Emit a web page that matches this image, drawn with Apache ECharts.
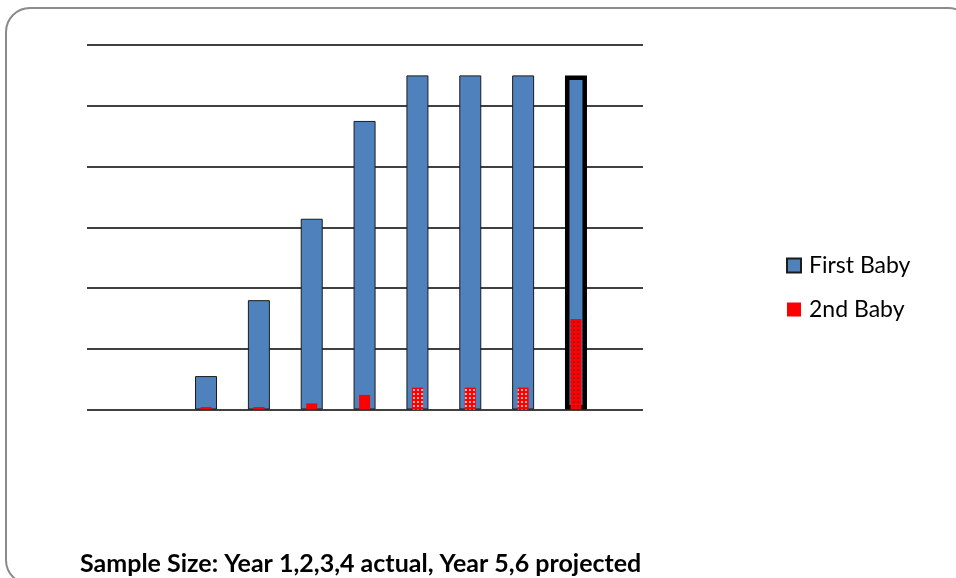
<!DOCTYPE html>
<html>
<head>
<meta charset="utf-8">
<script src="https://cdn.jsdelivr.net/npm/echarts@6/dist/echarts.min.js"></script>
<style>
  html, body { margin: 0; padding: 0; background: #fff; }
  #chart { width: 956px; height: 578px; }
</style>
</head>
<body>
<div id="chart"></div>
<script>
// bars have no axis labels in the source, so the categories are just placeholders
const categories = ['1', '2', '3', '4', '5', '6', '7', '8']
const firstBaby = [55, 180, 314, 475, 550, 550, 550, 550]
const secondBaby = [4, 4, 10, 24, 36, 36, 36, 149]
const yTicks = { min: 0, max: 600, interval: 100 }
const seriesNames = ['First Baby', '2nd Baby']
const footnote = 'Sample Size: Year 1,2,3,4 actual, Year 5,6 projected'

const FONT = 'Lato, "Open Sans", sans-serif'

// small dotted tile used to fill the projected "2nd Baby" bars
const makeDots = (bg, dot) => {
  const c = document.createElement('canvas')
  c.width = 4
  c.height = 4
  const ctx = c.getContext('2d')
  ctx.fillStyle = bg
  ctx.fillRect(0, 0, 4, 4)
  ctx.fillStyle = dot
  ctx.beginPath()
  ctx.arc(2, 2, 1.1, 0, Math.PI * 2)
  ctx.fill()
  return { image: c, repeat: 'repeat' }
}

const whiteDots = makeDots('#ff0000', 'rgba(255,220,220,0.95)')
const darkDots = makeDots('#ff0000', '#a00000')

const blueData = firstBaby.map((v, i) =>
  i === firstBaby.length - 1
    ? { value: v, itemStyle: { borderColor: '#000', borderWidth: 4.5 } }
    : v
)

const redData = secondBaby.map((v, i) => {
  if (i === secondBaby.length - 1) return { value: v, itemStyle: { color: darkDots } }
  if (i >= 4) return { value: v, itemStyle: { color: whiteDots } }
  return v
})

const hiddenCat = (gridIndex) => ({
  type: 'category',
  gridIndex,
  data: categories,
  axisLine: { show: false },
  axisTick: { show: false },
  axisLabel: { show: false }
})

const option = {
  backgroundColor: '#fff',
  animation: false,
  graphic: [
    {
      type: 'rect',
      shape: { x: 6, y: 8, width: 966, height: 576, r: 24 },
      style: { fill: 'none', stroke: '#8a8a8a', lineWidth: 2 },
      silent: true
    }
  ],
  title: {
    text: footnote,
    left: 75,
    top: 546,
    textStyle: { fontFamily: FONT, fontWeight: 'bold', fontSize: 25, color: '#000' }
  },
  legend: {
    orient: 'vertical',
    left: 781,
    top: 249,
    itemWidth: 14,
    itemHeight: 14,
    itemGap: 21,
    icon: 'rect',
    data: seriesNames,
    textStyle: { fontFamily: FONT, fontSize: 23, color: '#000', padding: [0, 0, 0, 3] }
  },
  grid: [
    // grid 0 only carries the horizontal gridlines
    { left: 87, right: 313, top: 45, bottom: 168.5 },
    // grid 1 holds the bars
    { left: 179.6, right: 353.6, top: 45, bottom: 168.5 }
  ],
  xAxis: [
    { type: 'value', gridIndex: 0, show: false },
    hiddenCat(1),
    hiddenCat(1)
  ],
  yAxis: [
    {
      type: 'value',
      gridIndex: 0,
      ...yTicks,
      axisLine: { show: false },
      axisTick: { show: false },
      axisLabel: { show: false },
      splitLine: { show: true, lineStyle: { color: '#000', width: 1.6 } }
    },
    {
      type: 'value',
      gridIndex: 1,
      ...yTicks,
      show: false,
      splitLine: { show: false }
    }
  ],
  series: [
    {
      name: seriesNames[0],
      type: 'bar',
      xAxisIndex: 1,
      yAxisIndex: 1,
      barWidth: 22,
      itemStyle: { color: '#4f81bd', borderColor: '#1b1b1b', borderWidth: 1 },
      data: blueData
    },
    {
      name: seriesNames[1],
      type: 'bar',
      xAxisIndex: 2,
      yAxisIndex: 1,
      barWidth: 11,
      z: 3,
      itemStyle: { color: '#ff0000' },
      data: redData
    }
  ]
}

const chart = echarts.init(document.getElementById('chart'))
chart.setOption(option)
</script>
</body>
</html>
